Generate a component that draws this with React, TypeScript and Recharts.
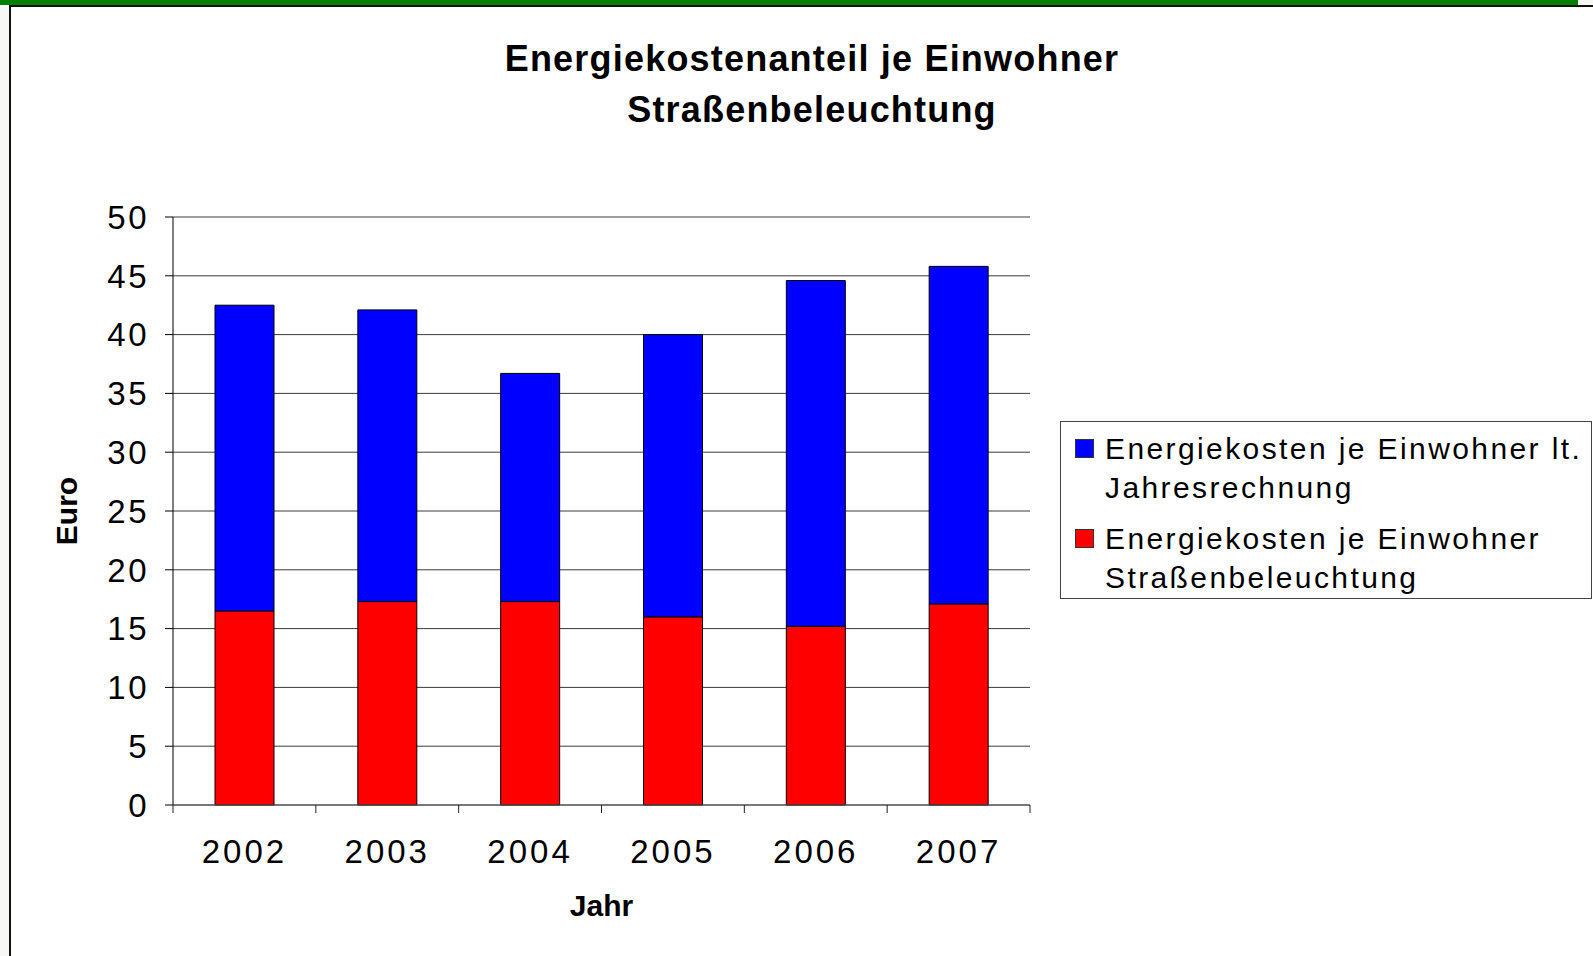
import { BarChart, Bar, XAxis, YAxis, CartesianGrid, Legend, Label } from 'recharts'

const years = ['2002', '2003', '2004', '2005', '2006', '2007']
const strassenbeleuchtung = [16.5, 17.3, 17.3, 16.0, 15.2, 17.1]
const jahresrechnung = [26.0, 24.8, 19.4, 24.0, 29.4, 28.7]
const yTicks = [0, 5, 10, 15, 20, 25, 30, 35, 40, 45, 50]

const nameJahres = 'Energiekosten je Einwohner lt.\nJahresrechnung'
const nameStrasse = 'Energiekosten je Einwohner\nStraßenbeleuchtung'

const W = 1593
const H = 956
const margin = { top: 217, right: 563, bottom: 31, left: 34 }
const Y_AXIS_W = 139
const PLOT_W = W - margin.left - margin.right - Y_AXIS_W
const BAND = PLOT_W / years.length

const data = years.map((year, i) => ({
  year,
  strasse: strassenbeleuchtung[i],
  jahres: jahresrechnung[i],
}))

const fontFamily = "'Liberation Sans', Arial, Helvetica, sans-serif"

function XTick(props: any) {
  const { x, y, payload, index } = props
  const half = BAND / 2
  return (
    <g>
      <line x1={x - half} y1={y} x2={x - half} y2={y + 8} stroke="#222" />
      {index === years.length - 1 && <line x1={x + half} y1={y} x2={x + half} y2={y + 8} stroke="#222" />}
      <text x={x} y={y + 46} textAnchor="middle" dominantBaseline="central" fontSize={33} letterSpacing={3} fill="#000">
        {payload.value}
      </text>
    </g>
  )
}

function LegendBox(props: any) {
  const items = [...(props.payload || [])].reverse()
  return (
    <div
      style={{
        width: 532,
        height: 178,
        border: '1px solid #444',
        background: '#fff',
        boxSizing: 'border-box',
        padding: '7px 0 0 14px',
        fontFamily,
      }}
    >
      {items.map((it: any) => (
        <div key={it.value} style={{ display: 'flex', alignItems: 'flex-start', marginBottom: 12 }}>
          <div
            style={{
              width: 17,
              height: 17,
              background: it.color,
              border: '1px solid #333',
              marginTop: 10,
              marginRight: 11,
              flexShrink: 0,
            }}
          />
          <div style={{ fontSize: 30, lineHeight: '39px', letterSpacing: 2.4, whiteSpace: 'pre-line', color: '#000' }}>
            {it.value}
          </div>
        </div>
      ))}
    </div>
  )
}

export default function App() {
  return (
    <div style={{ position: 'absolute', left: 0, top: 0, width: W, height: H, background: '#f7f8f6', fontFamily }}>
      <div style={{ position: 'absolute', left: 0, top: 0, width: 1578, height: 5, background: '#008000' }} />
      <div
        style={{
          position: 'absolute',
          left: 9,
          top: 5,
          right: 0,
          bottom: 0,
          background: '#fff',
          borderLeft: '2px solid #111',
          borderTop: '2px solid #111',
        }}
      />
      <div
        style={{
          position: 'absolute',
          left: 412,
          width: 800,
          top: 33,
          textAlign: 'center',
          fontWeight: 'bold',
          fontSize: 36,
          lineHeight: '51px',
          letterSpacing: 1.2,
          color: '#000',
        }}
      >
        Energiekostenanteil je Einwohner
        <br />
        Straßenbeleuchtung
      </div>
      <div style={{ position: 'absolute', left: 0, top: 0 }}>
        <BarChart width={W} height={H} data={data} margin={margin}>
          <CartesianGrid vertical={false} stroke="#3a3a3a" />
          <XAxis
            dataKey="year"
            height={120}
            axisLine={{ stroke: '#555' }}
            tickLine={false}
            tickSize={0}
            tickMargin={0}
            tick={<XTick />}
            interval={0}
          >
            <Label
              content={(p: any) => (
                <text
                  x={p.viewBox.x + p.viewBox.width / 2}
                  y={p.viewBox.y + 100}
                  textAnchor="middle"
                  dominantBaseline="central"
                  fontSize={30}
                  fontWeight="bold"
                  fill="#000"
                >
                  Jahr
                </text>
              )}
            />
          </XAxis>
          <YAxis
            width={Y_AXIS_W}
            domain={[0, 50]}
            ticks={yTicks}
            interval={0}
            axisLine={{ stroke: '#000' }}
            tickLine={{ stroke: '#000' }}
            tickSize={8}
            tickMargin={16}
            tick={{ fontSize: 33, fill: '#000', letterSpacing: 2.5 }}
          >
            <Label
              content={(p: any) => {
                const cx = p.viewBox.x + 32
                const cy = p.viewBox.y + p.viewBox.height / 2
                return (
                  <text
                    x={cx}
                    y={cy}
                    transform={`rotate(-90, ${cx}, ${cy})`}
                    textAnchor="middle"
                    dominantBaseline="central"
                    fontSize={30}
                    fontWeight="bold"
                    fill="#000"
                  >
                    Euro
                  </text>
                )
              }}
            />
          </YAxis>
          <Legend
            layout="horizontal"
            verticalAlign="middle"
            align="center"
            content={<LegendBox />}
            wrapperStyle={{ left: 1060, top: 421, width: 532 }}
          />
          <Bar dataKey="strasse" name={nameStrasse} stackId="a" fill="#ff0000" stroke="#000" strokeWidth={1} barSize={59} isAnimationActive={false} />
          <Bar dataKey="jahres" name={nameJahres} stackId="a" fill="#0000ff" stroke="#000" strokeWidth={1} barSize={59} isAnimationActive={false} />
        </BarChart>
      </div>
    </div>
  )
}
